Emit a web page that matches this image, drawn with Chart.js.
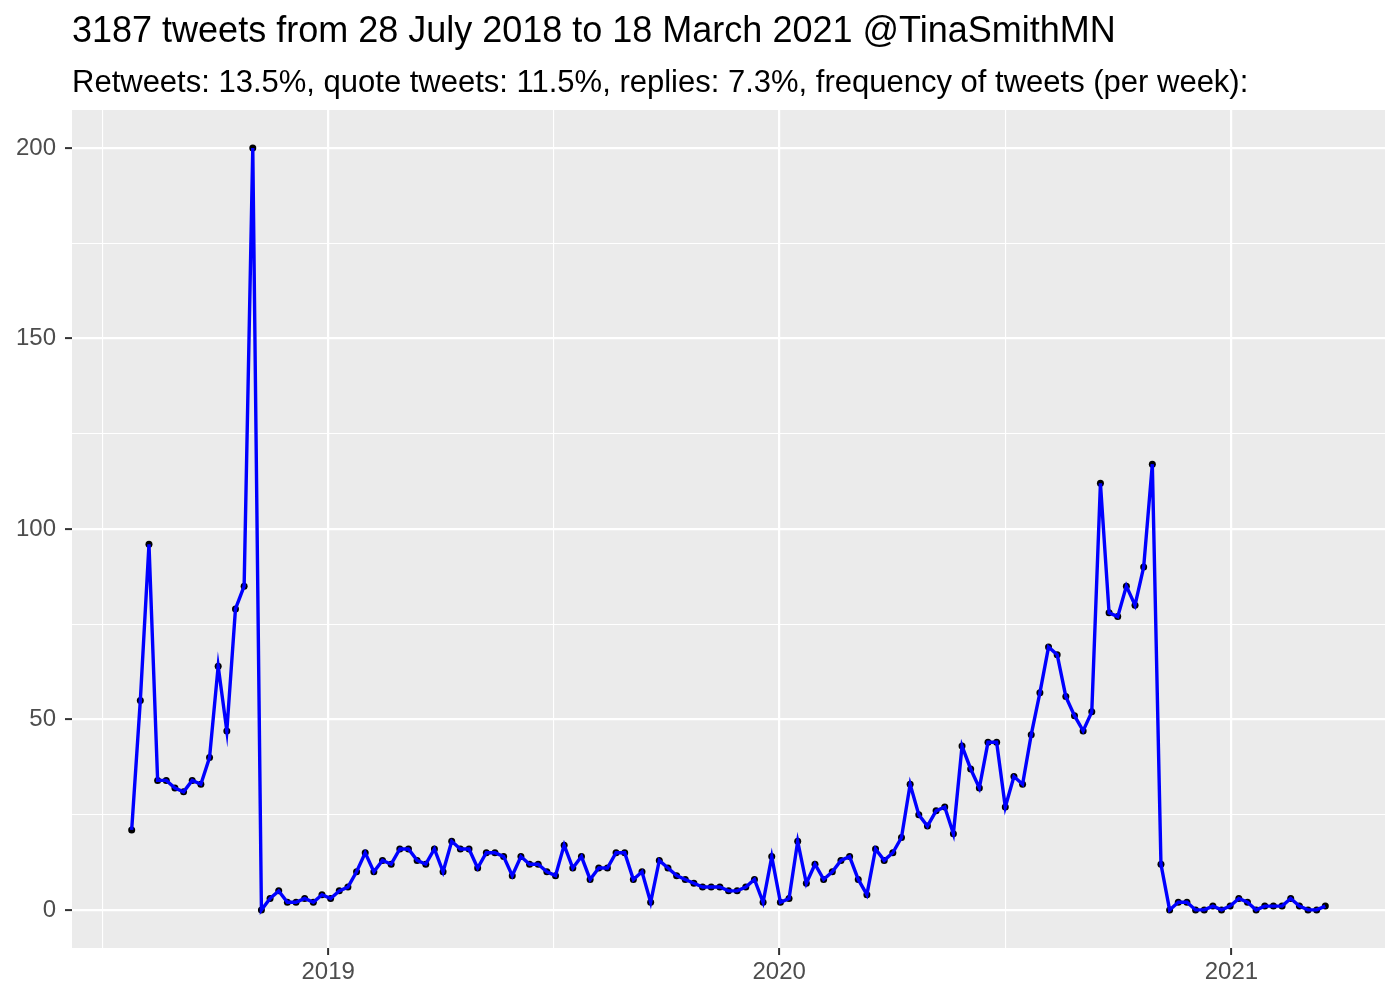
<!DOCTYPE html>
<html>
<head>
<meta charset="utf-8">
<script src="https://cdn.jsdelivr.net/npm/chart.js@4.4.0/dist/chart.umd.min.js"></script>
<style>
  html, body { margin: 0; padding: 0; background: #fff; }
  #wrap { width: 1400px; height: 1000px; }
</style>
</head>
<body>
<div id="wrap"><canvas id="tweetChart" width="1400" height="1000"></canvas></div>
<script>
const TITLE = '3187 tweets from 28 July 2018 to 18 March 2021 @TinaSmithMN';
const SUBTITLE = 'Retweets: 13.5%, quote tweets: 11.5%, replies: 7.3%, frequency of tweets (per week):';

// weekly counts, starting with the week of FIRST_WEEK (bins start on thursdays)
const FIRST_WEEK = '2018-07-26';
const tweetsPerWeek = [
  21, 55, 96, 34, 34, 32, 31, 34, 33, 40,
  64, 47, 79, 85, 200, 0, 3, 5, 2, 2,
  3, 2, 4, 3, 5, 6, 10, 15, 10, 13,
  12, 16, 16, 13, 12, 16, 10, 18, 16, 16,
  11, 15, 15, 14, 9, 14, 12, 12, 10, 9,
  17, 11, 14, 8, 11, 11, 15, 15, 8, 10,
  2, 13, 11, 9, 8, 7, 6, 6, 6, 5,
  5, 6, 8, 2, 14, 2, 3, 18, 7, 12,
  8, 10, 13, 14, 8, 4, 16, 13, 15, 19,
  33, 25, 22, 26, 27, 20, 43, 37, 32, 44,
  44, 27, 35, 33, 46, 57, 69, 67, 56, 51,
  47, 52, 112, 78, 77, 85, 80, 90, 117, 12,
  0, 2, 2, 0, 0, 1, 0, 1, 3, 2,
  0, 1, 1, 1, 3, 1, 0, 0, 1
];

const xTickYears = [2019, 2020, 2021];
const yTicks = [0, 50, 100, 150, 200];
const yMinorTicks = [25, 75, 125, 175];

const DAY = 86400000;
const toDays = s => Date.parse(s) / DAY;

// x positions are days since epoch
const start = toDays(FIRST_WEEK);
const points = tweetsPerWeek.map((v, i) => ({ x: start + 7 * i, y: v }));
const first = points[0].x;
const last = points[points.length - 1].x;
const span = last - first;

// year breaks + minor breaks halfway between them (like ggplot)
const yearStarts = [xTickYears[0] - 1, ...xTickYears].map(y => toDays(`${y}-01-01`));
const xMajor = xTickYears.map(y => toDays(`${y}-01-01`));
const xMinor = [];
for (let i = 0; i < yearStarts.length - 1; i++) {
  xMinor.push((yearStarts[i] + yearStarts[i + 1]) / 2);
}
const xLabels = new Map(xMajor.map((v, i) => [v, String(xTickYears[i])]));
const allX = [...xMajor, ...xMinor].sort((a, b) => a - b);
const allY = [...yTicks, ...yMinorTicks].sort((a, b) => a - b);

const isMajorX = v => xLabels.has(v);
const isMajorY = v => yTicks.includes(v);

const FONT = '"Liberation Sans", Arial, Helvetica, sans-serif';

const panelBg = {
  id: 'panelBg',
  beforeDraw(chart) {
    const { ctx, chartArea: a } = chart;
    ctx.save();
    ctx.fillStyle = '#EBEBEB';
    ctx.fillRect(a.left, a.top, a.right - a.left, a.bottom - a.top);
    ctx.restore();
  }
};

// title + subtitle aligned to the panel's left edge
const titles = {
  id: 'titles',
  afterDraw(chart) {
    const { ctx, chartArea: a } = chart;
    ctx.save();
    ctx.fillStyle = '#000';
    ctx.textBaseline = 'alphabetic';
    ctx.textAlign = 'left';
    ctx.font = `36px ${FONT}`;
    ctx.fillText(TITLE, a.left, 42);
    ctx.font = `31px ${FONT}`;
    ctx.fillText(SUBTITLE, a.left, 92);
    ctx.restore();
  }
};

new Chart(document.getElementById('tweetChart'), {
  type: 'line',
  data: {
    datasets: [
      {
        data: points,
        borderColor: '#0000FF',
        borderWidth: 3.4,
        pointRadius: 0,
        tension: 0,
        order: 1
      },
      {
        data: points,
        showLine: false,
        pointRadius: 3.5,
        pointBackgroundColor: '#000',
        pointBorderWidth: 0,
        order: 2
      }
    ]
  },
  options: {
    responsive: false,
    animation: false,
    layout: { padding: { top: 110, right: 15, left: 0, bottom: 0 } },
    plugins: {
      legend: { display: false },
      tooltip: { enabled: false }
    },
    scales: {
      x: {
        type: 'linear',
        min: first - 0.05 * span,
        max: last + 0.05 * span,
        afterBuildTicks: s => { s.ticks = allX.map(v => ({ value: v })); },
        afterFit: s => { s.height = 52; },
        border: { display: false },
        grid: {
          color: '#fff',
          lineWidth: c => (c.tick && isMajorX(c.tick.value) ? 2.2 : 1.1),
          drawTicks: true,
          tickLength: 7,
          tickWidth: 2,
          tickColor: c => (c.tick && isMajorX(c.tick.value) ? '#333' : 'rgba(0,0,0,0)')
        },
        ticks: {
          autoSkip: false,
          maxRotation: 0,
          padding: 3,
          color: '#4D4D4D',
          font: { family: FONT, size: 24 },
          callback: v => xLabels.get(v) || ''
        }
      },
      y: {
        min: -10,
        max: 210,
        afterBuildTicks: s => { s.ticks = allY.map(v => ({ value: v })); },
        afterFit: s => { s.width = 72; },
        border: { display: false },
        grid: {
          color: '#fff',
          lineWidth: c => (c.tick && isMajorY(c.tick.value) ? 2.2 : 1.1),
          drawTicks: true,
          tickLength: 7,
          tickWidth: 2,
          tickColor: c => (c.tick && isMajorY(c.tick.value) ? '#333' : 'rgba(0,0,0,0)')
        },
        ticks: {
          padding: 9,
          color: '#4D4D4D',
          font: { family: FONT, size: 24 },
          callback: v => (isMajorY(v) ? String(v) : '')
        }
      }
    }
  },
  plugins: [panelBg, titles]
});
</script>
</body>
</html>
